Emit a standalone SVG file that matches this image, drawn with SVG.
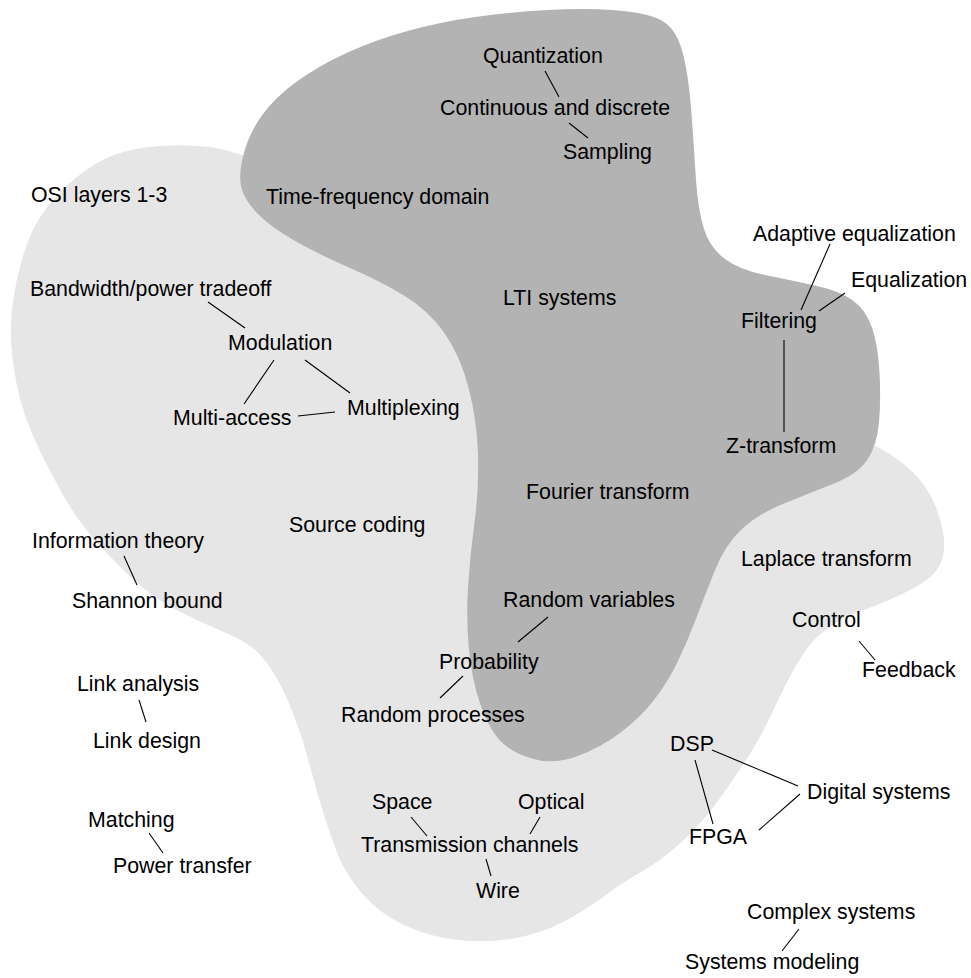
<svg xmlns="http://www.w3.org/2000/svg" width="971" height="978" viewBox="0 0 971 978">
<style>
text{font-family:"Liberation Sans",Arial,sans-serif;font-size:21.33px;fill:#000}
.c line{stroke:#000;stroke-width:1.1}
</style>
<rect width="971" height="978" fill="#fff"/>
<g id="regions">
<path id="light-region" fill="#e6e6e6" d="M 114,155 Q 133,148 159,146 Q 185,144 210,147 Q 235,150 292.5,175 Q 350,200 475,275 Q 600,350 710,390 Q 820,430 840,434 Q 860,438 877.5,447 Q 895,456 909.5,469 Q 924,482 932,498.5 Q 940,515 943,531.5 Q 946,548 942,560 Q 938,572 925,581 Q 912,590 893.5,598 Q 875,606 858.5,612 Q 842,618 828,628 Q 814,638 804.5,652 Q 795,666 786.5,683 Q 778,700 769.5,718 Q 761,736 753,749 Q 745,762 735.5,776 Q 726,790 713,807.5 Q 700,825 681,842.5 Q 662,860 641,872 Q 620,884 603,897 Q 586,910 563,922 Q 540,934 513,938.5 Q 486,943 458,940 Q 430,937 405,925.5 Q 380,914 363,894.5 Q 346,875 338,855 Q 330,835 323,812 Q 316,789 309.5,764 Q 303,739 293.5,714.5 Q 284,690 274,673.5 Q 264,657 253.5,648.5 Q 243,640 221.5,631 Q 200,622 175,609 Q 150,596 126.5,573 Q 103,550 90.5,535 Q 78,520 68,503.5 Q 58,487 40.5,452 Q 23,417 16.5,383.5 Q 10,350 11,324 Q 12,298 20,266.5 Q 28,235 41.5,215 Q 55,195 75,178.5 Q 95,162 114,155 Z"/>
<path id="dark-region" fill="#b3b3b3" d="M 242,190 Q 238,178 243,156.5 Q 248,135 261.5,116 Q 275,97 297.5,81 Q 320,65 347.5,52.5 Q 375,40 407.5,31 Q 440,22 475,17 Q 510,12 547.5,10 Q 585,8 612.5,10 Q 640,12 654,17 Q 668,22 675,33.5 Q 682,45 686,67.5 Q 690,90 692,120 Q 694,150 696,180 Q 698,210 704,229 Q 710,248 725,259 Q 740,270 765,275 Q 790,280 815,285.5 Q 840,291 853,300.5 Q 866,310 872,327.5 Q 878,345 879.5,372.5 Q 881,400 879,422.5 Q 877,445 867.5,459.5 Q 858,474 834,483.5 Q 810,493 784,503.5 Q 758,514 741.5,529.5 Q 725,545 715,570 Q 705,595 696.5,617.5 Q 688,640 678,661 Q 668,682 654,700 Q 640,718 620,733 Q 600,748 576.5,756.5 Q 553,765 531.5,758.5 Q 510,752 499,739.5 Q 488,727 480,703.5 Q 472,680 469,650 Q 466,620 468,587.5 Q 470,555 474.5,522.5 Q 479,490 478,455 Q 477,420 468.5,387.5 Q 460,355 444,332.5 Q 428,310 404,295.5 Q 380,281 350,268 Q 320,255 296,241.5 Q 272,228 259,215 Q 246,202 242,190 Z"/>
</g>
<g id="connectors" class="c">
<line x1="545" y1="71" x2="559" y2="97"/>
<line x1="569" y1="123" x2="588" y2="138"/>
<line x1="830" y1="244" x2="801" y2="310"/>
<line x1="845" y1="293" x2="819" y2="311"/>
<line x1="784" y1="340" x2="784" y2="432"/>
<line x1="208" y1="302" x2="245" y2="328"/>
<line x1="274" y1="360" x2="244" y2="404"/>
<line x1="305" y1="360" x2="350" y2="393"/>
<line x1="298" y1="416" x2="335" y2="412"/>
<line x1="124" y1="556" x2="137" y2="585"/>
<line x1="139" y1="700" x2="146" y2="722"/>
<line x1="149" y1="833" x2="163" y2="853"/>
<line x1="548" y1="617" x2="518" y2="642"/>
<line x1="463" y1="676" x2="440" y2="698"/>
<line x1="859" y1="641" x2="875" y2="660"/>
<line x1="712" y1="750" x2="798" y2="786"/>
<line x1="695" y1="760" x2="713" y2="824"/>
<line x1="759" y1="830" x2="800" y2="794"/>
<line x1="411" y1="817" x2="427" y2="836"/>
<line x1="540" y1="817" x2="530" y2="834"/>
<line x1="486" y1="859" x2="491" y2="876"/>
<line x1="799" y1="929" x2="782" y2="951"/>
</g>
<g id="quantization"><text x="483" y="63">Quantization</text></g>
<g id="continuous-discrete"><text x="440" y="115">Continuous and discrete</text></g>
<g id="sampling"><text x="563" y="159">Sampling</text></g>
<g id="time-frequency"><text x="266" y="204">Time-frequency domain</text></g>
<g id="osi"><text x="31" y="202">OSI layers 1-3</text></g>
<g id="adaptive-eq"><text x="753" y="241">Adaptive equalization</text></g>
<g id="equalization"><text x="851" y="287">Equalization</text></g>
<g id="bandwidth"><text x="30" y="296">Bandwidth/power tradeoff</text></g>
<g id="lti"><text x="503" y="305">LTI systems</text></g>
<g id="filtering"><text x="741" y="328">Filtering</text></g>
<g id="modulation"><text x="228" y="350">Modulation</text></g>
<g id="multiplexing"><text x="347" y="415">Multiplexing</text></g>
<g id="multi-access"><text x="173" y="425">Multi-access</text></g>
<g id="z-transform"><text x="726" y="453">Z-transform</text></g>
<g id="fourier"><text x="526" y="499">Fourier transform</text></g>
<g id="source-coding"><text x="289" y="532">Source coding</text></g>
<g id="information-theory"><text x="32" y="548">Information theory</text></g>
<g id="laplace"><text x="741" y="566">Laplace transform</text></g>
<g id="shannon"><text x="72" y="608">Shannon bound</text></g>
<g id="random-variables"><text x="503" y="607">Random variables</text></g>
<g id="control"><text x="792" y="627">Control</text></g>
<g id="probability"><text x="439" y="669">Probability</text></g>
<g id="feedback"><text x="862" y="677">Feedback</text></g>
<g id="link-analysis"><text x="77" y="691">Link analysis</text></g>
<g id="random-processes"><text x="341" y="722">Random processes</text></g>
<g id="link-design"><text x="93" y="748">Link design</text></g>
<g id="dsp"><text x="670" y="751">DSP</text></g>
<g id="digital-systems"><text x="807" y="799">Digital systems</text></g>
<g id="space"><text x="372" y="809">Space</text></g>
<g id="optical"><text x="518" y="809">Optical</text></g>
<g id="matching"><text x="88" y="827">Matching</text></g>
<g id="fpga"><text x="689" y="844">FPGA</text></g>
<g id="transmission"><text x="361" y="852">Transmission channels</text></g>
<g id="power-transfer"><text x="113" y="873">Power transfer</text></g>
<g id="wire"><text x="476" y="898">Wire</text></g>
<g id="complex-systems"><text x="747" y="919">Complex systems</text></g>
<g id="systems-modeling"><text x="685" y="969">Systems modeling</text></g>
</svg>
